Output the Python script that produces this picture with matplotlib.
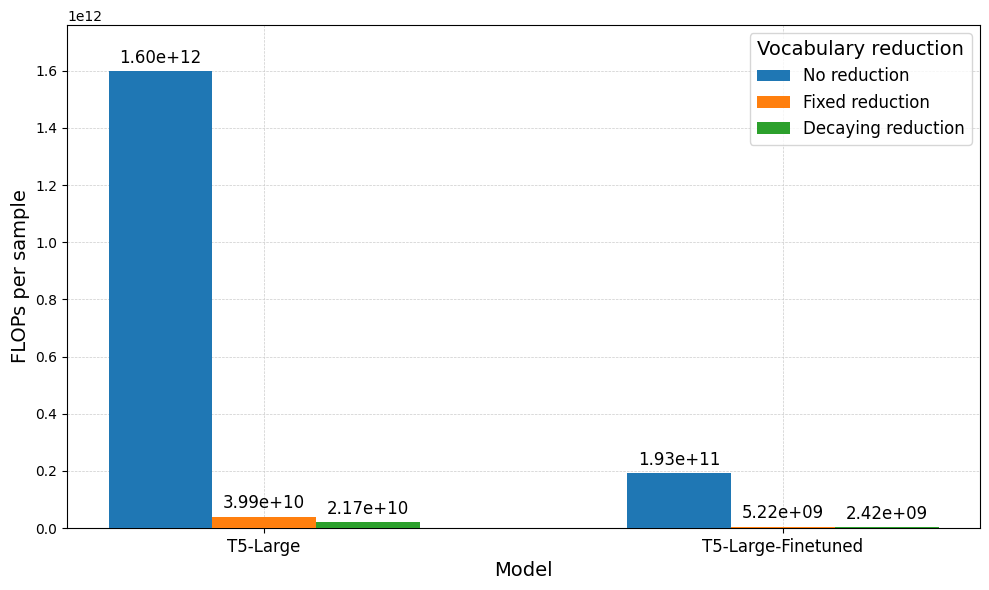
import matplotlib
matplotlib.use("Agg")
import matplotlib.pyplot as plt
import numpy as np

models = ["T5-Large", "T5-Large-Finetuned"]
series_names = ["No reduction", "Fixed reduction", "Decaying reduction"]
no_reduction = [1.60e12, 1.93e11]
fixed_reduction = [3.99e10, 5.22e9]
decaying_reduction = [2.17e10, 2.42e9]
colors = ["#1f77b4", "#ff7f0e", "#2ca02c"]

fig, ax = plt.subplots(figsize=(9.89, 5.9), dpi=100)
x = np.arange(len(models))
width = 0.2
all_series = [no_reduction, fixed_reduction, decaying_reduction]
for i, (name, vals, c) in enumerate(zip(series_names, all_series, colors)):
    bars = ax.bar(x + (i - 1) * width, vals, width, label=name, color=c, zorder=3)
    for b, v in zip(bars, vals):
        ax.annotate(f"{v:.2e}", (b.get_x() + b.get_width() / 2, b.get_height()),
                    xytext=(0, 3), textcoords="offset points",
                    ha="center", va="bottom", fontsize=12)

ax.set_ylim(0, max(no_reduction) * 1.1)
ax.set_xticks(x)
ax.set_xticklabels(models, fontsize=12)
ax.set_xlabel("Model", fontsize=14)
ax.set_ylabel("FLOPs per sample", fontsize=14)
ax.grid(True, linestyle="--", linewidth=0.5, color="#cccccc", zorder=0)
ax.set_axisbelow(True)
ax.legend(title="Vocabulary reduction", fontsize=12, title_fontsize=14, loc="upper right")
fig.subplots_adjust(left=67/989, right=980/989, top=1-25/590, bottom=1-528/590)
fig.savefig("out.png", dpi=100)
